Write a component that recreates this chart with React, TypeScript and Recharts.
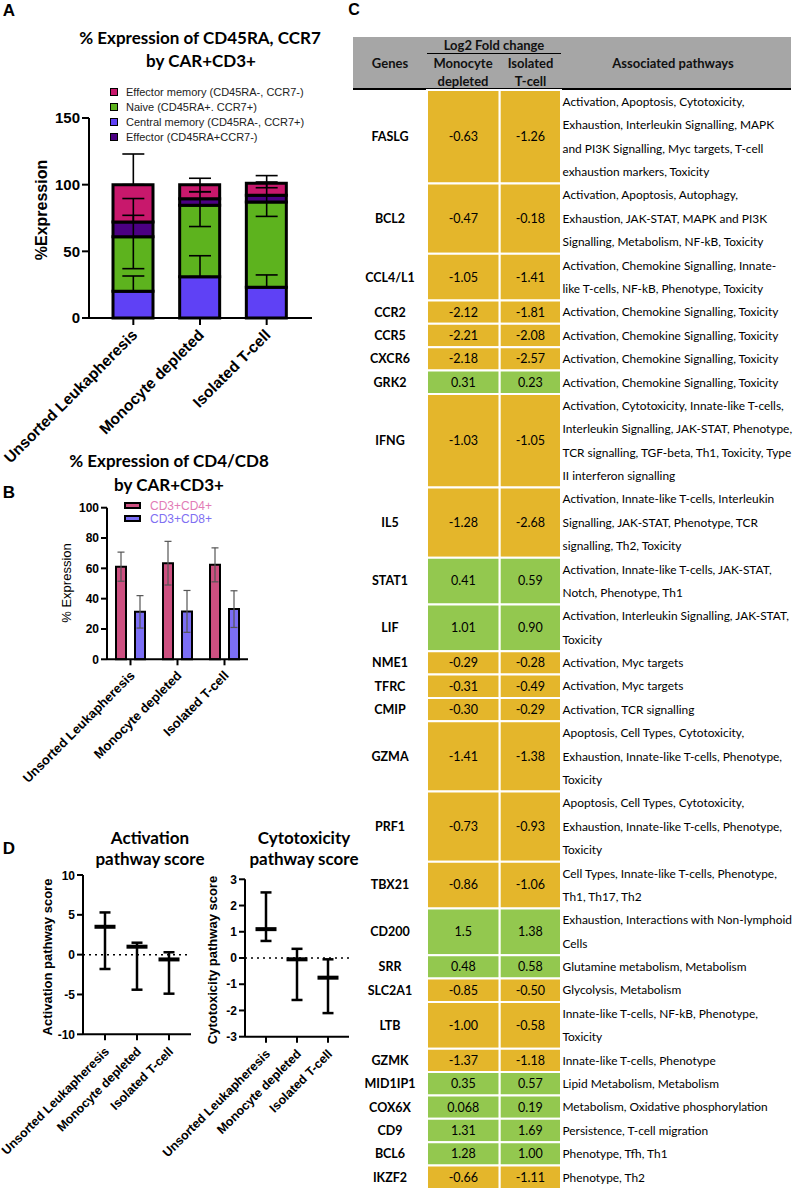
import React from 'react';
import { ComposedChart, BarChart, Bar, Scatter, ErrorBar, XAxis, YAxis, ReferenceLine, ReferenceArea } from 'recharts';

const GROUPS = ['Unsorted Leukapheresis', 'Monocyte depleted', 'Isolated T-cell'];

// A — CD45RA / CCR7 subsets, stacked %
const CENTRAL_MEMORY = [20, 31, 23];
const NAIVE = [41, 53.5, 64];
const EFFECTOR = [11, 5, 5];
const EFFECTOR_MEMORY = [28, 10.5, 9];
// error bar extents [low, high] as drawn on each stacked segment
const CM_RANGE = [[20, 31.5], [31, 46.7], [23, 32.3]];
const NAIVE_RANGE = [[37, 77], [68.6, 84.5], [76.2, 87]];
const EFF_RANGE = [[72, 89.6], [84.5, 94.7], [87, 102]];
const EM_RANGE = [[100, 123], [94.7, 104.8], [97.7, 106.8]];

// B — CD4 / CD8 (mean, SD)
const CD4 = [61.1, 63.4, 62.3];
const CD4_SD = [9.6, 14.4, 11.2];
const CD8 = [31.3, 31.6, 33.1];
const CD8_SD = [10.7, 13.8, 12.1];

// D — pathway scores (median with range)
const ACT_MEDIAN = [3.5, 1.0, -0.6];
const ACT_MIN = [-1.8, -4.4, -4.9];
const ACT_MAX = [5.3, 1.5, 0.3];
const CYT_MEDIAN = [1.1, -0.05, -0.75];
const CYT_MIN = [0.65, -1.6, -2.1];
const CYT_MAX = [2.5, 0.35, -0.05];

// C — log2 fold change table
const GENES = ['FASLG', 'BCL2', 'CCL4/L1', 'CCR2', 'CCR5', 'CXCR6', 'GRK2', 'IFNG', 'IL5', 'STAT1', 'LIF', 'NME1', 'TFRC', 'CMIP', 'GZMA', 'PRF1', 'TBX21', 'CD200', 'SRR', 'SLC2A1', 'LTB', 'GZMK', 'MID1IP1', 'COX6X', 'CD9', 'BCL6', 'IKZF2'];
const FC_MONOCYTE = ['-0.63', '-0.47', '-1.05', '-2.12', '-2.21', '-2.18', '0.31', '-1.03', '-1.28', '0.41', '1.01', '-0.29', '-0.31', '-0.30', '-1.41', '-0.73', '-0.86', '1.5', '0.48', '-0.85', '-1.00', '-1.37', '0.35', '0.068', '1.31', '1.28', '-0.66'];
const FC_ISOLATED = ['-1.26', '-0.18', '-1.41', '-1.81', '-2.08', '-2.57', '0.23', '-1.05', '-2.68', '0.59', '0.90', '-0.28', '-0.49', '-0.29', '-1.38', '-0.93', '-1.06', '1.38', '0.58', '-0.50', '-0.58', '-1.18', '0.57', '0.19', '1.69', '1.00', '-1.11'];
const CHEMO = ['Activation, Chemokine Signalling, Toxicity'];
const APOP = ['Apoptosis, Cell Types, Cytotoxicity,', 'Exhaustion, Innate-like T-cells, Phenotype,', 'Toxicity'];
const PATHWAYS = [
  ['Activation, Apoptosis, Cytotoxicity,', 'Exhaustion, Interleukin Signalling, MAPK', 'and PI3K Signalling, Myc targets, T-cell', 'exhaustion markers, Toxicity'],
  ['Activation, Apoptosis, Autophagy,', 'Exhaustion, JAK-STAT, MAPK and PI3K', 'Signalling, Metabolism, NF-kB, Toxicity'],
  ['Activation, Chemokine Signalling, Innate-', 'like T-cells, NF-kB, Phenotype, Toxicity'],
  CHEMO, CHEMO, CHEMO, CHEMO,
  ['Activation, Cytotoxicity, Innate-like T-cells,', 'Interleukin Signalling, JAK-STAT, Phenotype,', 'TCR signalling, TGF-beta, Th1, Toxicity, Type', 'II interferon signalling'],
  ['Activation, Innate-like T-cells, Interleukin', 'Signalling, JAK-STAT, Phenotype, TCR', 'signalling, Th2, Toxicity'],
  ['Activation, Innate-like T-cells, JAK-STAT,', 'Notch, Phenotype, Th1'],
  ['Activation, Interleukin Signalling, JAK-STAT,', 'Toxicity'],
  ['Activation, Myc targets'],
  ['Activation, Myc targets'],
  ['Activation, TCR signalling'],
  APOP, APOP,
  ['Cell Types, Innate-like T-cells, Phenotype,', 'Th1, Th17, Th2'],
  ['Exhaustion, Interactions with Non-lymphoid', 'Cells'],
  ['Glutamine metabolism, Metabolism'],
  ['Glycolysis, Metabolism'],
  ['Innate-like T-cells, NF-kB, Phenotype,', 'Toxicity'],
  ['Innate-like T-cells, Phenotype'],
  ['Lipid Metabolism, Metabolism'],
  ['Metabolism, Oxidative phosphorylation'],
  ['Persistence, T-cell migration'],
  ['Phenotype, Tfh, Th1'],
  ['Phenotype, Th2'],
];

const SANS = '"Liberation Sans", Arial, sans-serif';
const TITLE = 'Lato, "Open Sans", sans-serif';

const A_COLORS = { cm: '#5F41F5', naive: '#5DB31E', eff: '#4B0082', em: '#C8186C' };
const B_COLORS = { cd4: '#CD5080', cd8: '#7B6EF5', cd4Text: '#E27CB6', cd8Text: '#7F70F2' };
const CELL_NEG = '#E4B62B';
const CELL_POS = '#93C84F';
const COLS = [0, 74, 146.7, 208, 438];

const subsetRows = GROUPS.map((name, i) => ({
  name,
  cm: CENTRAL_MEMORY[i], naive: NAIVE[i], eff: EFFECTOR[i], em: EFFECTOR_MEMORY[i],
  cmLo: CM_RANGE[i][0], cmErr: [0, CM_RANGE[i][1] - CM_RANGE[i][0]],
  naiveLo: NAIVE_RANGE[i][0], naiveErr: [0, NAIVE_RANGE[i][1] - NAIVE_RANGE[i][0]],
  effLo: EFF_RANGE[i][0], effErr: [0, EFF_RANGE[i][1] - EFF_RANGE[i][0]],
  emLo: EM_RANGE[i][0], emErr: [0, EM_RANGE[i][1] - EM_RANGE[i][0]],
}));

const cdRows = GROUPS.map((name, i) => ({ name, cd4: CD4[i], cd4Sd: CD4_SD[i], cd8: CD8[i], cd8Sd: CD8_SD[i] }));

const scoreRows = (med: number[], lo: number[], hi: number[]) =>
  GROUPS.map((name, i) => ({ name, median: med[i], range: [med[i] - lo[i], hi[i] - med[i]] }));

let acc = 0;
const tableRows = GENES.map((gene, i) => {
  const start = acc;
  acc += PATHWAYS[i].length;
  return { gene, mono: FC_MONOCYTE[i], iso: FC_ISOLATED[i], lines: PATHWAYS[i], start, end: acc };
});
const TOTAL_LINES = acc;
// corners of the table grid, so both hidden axes have data to scale
const tableFrame = [{ x: COLS[0], y: 0 }, { x: COLS[4], y: TOTAL_LINES }];

const SlantTick = (props: any) => {
  const { x, y, payload, size, dx = 0, dy = 0 } = props;
  const tx = x + dx;
  const ty = y + dy;
  return (
    <text x={tx} y={ty} transform={`rotate(-45, ${tx}, ${ty})`} textAnchor="end" fontSize={size} fontWeight={700} fill="#000" fontFamily={SANS}>
      {payload.value}
    </text>
  );
};

const NoShape = () => <g />;
const MedianBar = (props: any) => {
  const { cx, cy } = props;
  if (cx == null || cy == null) return null;
  return <rect x={cx - 10.5} y={cy - 2} width={21} height={4} fill="#000" />;
};

// plain positioned text for titles, labels, legends
const Txt = ({ x, y, size, weight = 400, family = SANS, color = '#000', align = 'center', rotate = 0, children }: any) => (
  <div style={{
    position: 'absolute', left: x, top: y, whiteSpace: 'nowrap', lineHeight: 1, fontSize: size, fontWeight: weight,
    fontFamily: family, color,
    transform: `translate(${align === 'center' ? '-50%' : '0'}, -50%) rotate(${rotate}deg)`,
  }}>{children}</div>
);

const axisStyle = { stroke: '#000', strokeWidth: 2 };

const App = () => {
  return (
    <div style={{ position: 'absolute', left: 0, top: 0, width: 798, height: 1190, background: '#fff', fontFamily: SANS, overflow: 'hidden' }}>
      <style>{'svg.recharts-surface { overflow: visible; }'}</style>
      {/* Panel letters */}
      <Txt x={9} y={10} size={17} weight={700}>A</Txt>
      <Txt x={9} y={492} size={17} weight={700}>B</Txt>
      <Txt x={354} y={10} size={16} weight={700}>C</Txt>
      <Txt x={9} y={848} size={17} weight={700}>D</Txt>

      {/* A */}
      <Txt x={200} y={37} size={17} weight={700} family={TITLE}>% Expression of CD45RA, CCR7</Txt>
      <Txt x={201} y={60} size={17} weight={700} family={TITLE}>by CAR+CD3+</Txt>
      {[
        ['Effector memory (CD45RA-, CCR7-)', A_COLORS.em],
        ['Naive (CD45RA+. CCR7+)', A_COLORS.naive],
        ['Central memory (CD45RA-, CCR7+)', A_COLORS.cm],
        ['Effector (CD45RA+CCR7-)', A_COLORS.eff],
      ].map(([label, color], i) => (
        <React.Fragment key={label}>
          <div style={{ position: 'absolute', left: 110, top: 88 + i * 15.1, width: 8, height: 8, boxSizing: 'border-box', border: '1.5px solid #000', background: color }} />
          <Txt x={126} y={92 + i * 15.1} size={11} align="left" color="#222">{label}</Txt>
        </React.Fragment>
      ))}
      <Txt x={42} y={210} size={16} weight={700} rotate={-90}>%Expression</Txt>
      <div style={{ position: 'absolute', left: 0, top: 0 }}>
        <ComposedChart width={320} height={440} data={subsetRows} margin={{ top: 118, right: 8, bottom: 0, left: 0 }} barSize={40}>
          <XAxis dataKey="name" type="category" interval={0} padding={{ left: 11, right: 12 }} height={122}
            axisLine={axisStyle} tickLine={axisStyle} tickSize={7} tick={<SlantTick size={15.5} dx={5} dy={9} />} />
          <YAxis type="number" domain={[0, 150]} ticks={[0, 50, 100, 150]} width={89} axisLine={axisStyle} tickLine={axisStyle}
            tickSize={7} tick={{ fontSize: 15, fontWeight: 700, fill: '#000' }} />
          <Bar dataKey="cm" stackId="s" fill={A_COLORS.cm} stroke="#000" strokeWidth={3} isAnimationActive={false} />
          <Bar dataKey="naive" stackId="s" fill={A_COLORS.naive} stroke="#000" strokeWidth={3} isAnimationActive={false} />
          <Bar dataKey="eff" stackId="s" fill={A_COLORS.eff} stroke="#000" strokeWidth={3} isAnimationActive={false} />
          <Bar dataKey="em" stackId="s" fill={A_COLORS.em} stroke="#000" strokeWidth={3} isAnimationActive={false} />
          {['cm', 'naive', 'eff', 'em'].map((k) => (
            <Scatter key={k} dataKey={`${k}Lo`} shape={NoShape} isAnimationActive={false}>
              <ErrorBar dataKey={`${k}Err`} direction="y" width={11} stroke="#000" strokeWidth={1.6} />
            </Scatter>
          ))}
        </ComposedChart>
      </div>

      {/* B */}
      <Txt x={169} y={460} size={17} weight={700} family={TITLE}>% Expression of CD4/CD8</Txt>
      <Txt x={169} y={484} size={17} weight={700} family={TITLE}>by CAR+CD3+</Txt>
      {[
        ['CD3+CD4+', B_COLORS.cd4, B_COLORS.cd4Text],
        ['CD3+CD8+', B_COLORS.cd8, B_COLORS.cd8Text],
      ].map(([label, fill, text], i) => (
        <React.Fragment key={label}>
          <div style={{ position: 'absolute', left: 124, top: 501.5 + i * 13.3, width: 17, height: 7.5, boxSizing: 'border-box', border: '2px solid #000', background: fill }} />
          <Txt x={150} y={505.5 + i * 13.3} size={12} align="left" color={text}>{label}</Txt>
        </React.Fragment>
      ))}
      <Txt x={66} y={583} size={13} rotate={-90}>% Expression</Txt>
      <div style={{ position: 'absolute', left: 0, top: 500 }}>
        <BarChart width={252} height={290} data={cdRows} margin={{ top: 7.7, right: 4, bottom: 0, left: 0 }} barSize={10} barGap={9}>
          <XAxis dataKey="name" interval={0} height={130.7} axisLine={axisStyle} tickLine={axisStyle} tickSize={6}
            tick={<SlantTick size={13} dx={5} dy={9} />} />
          <YAxis type="number" domain={[0, 100]} ticks={[0, 20, 40, 60, 80, 100]} width={107} axisLine={axisStyle} tickLine={axisStyle}
            tickSize={6} tick={{ fontSize: 12, fontWeight: 700, fill: '#000' }} />
          <Bar dataKey="cd4" fill={B_COLORS.cd4} stroke="#000" strokeWidth={2} isAnimationActive={false}>
            <ErrorBar dataKey="cd4Sd" width={3.5} stroke="#555" strokeWidth={1.2} />
          </Bar>
          <Bar dataKey="cd8" fill={B_COLORS.cd8} stroke="#000" strokeWidth={2} isAnimationActive={false}>
            <ErrorBar dataKey="cd8Sd" width={3.5} stroke="#555" strokeWidth={1.2} />
          </Bar>
        </BarChart>
      </div>

      {/* D */}
      <Txt x={150} y={837} size={17} weight={700} family={TITLE}>Activation</Txt>
      <Txt x={150} y={858} size={17} weight={700} family={TITLE}>pathway score</Txt>
      <Txt x={304} y={837} size={17} weight={700} family={TITLE}>Cytotoxicity</Txt>
      <Txt x={304} y={858} size={17} weight={700} family={TITLE}>pathway score</Txt>
      <Txt x={47} y={957} size={13} weight={700} rotate={-90}>Activation pathway score</Txt>
      <Txt x={212} y={960} size={13} weight={700} rotate={-90}>Cytotoxicity pathway score</Txt>
      <div style={{ position: 'absolute', left: 0, top: 868 }}>
        <ComposedChart width={195} height={267} data={scoreRows(ACT_MEDIAN, ACT_MIN, ACT_MAX)} margin={{ top: 7, right: 4, bottom: 0, left: 0 }}>
          <XAxis dataKey="name" type="category" interval={0} padding={{ left: 22, right: 22 }} height={100.7} axisLine={axisStyle}
            tickLine={axisStyle} tickSize={6} tick={<SlantTick size={12.5} dx={5} dy={10} />} />
          <YAxis type="number" domain={[-10, 10]} ticks={[-10, -5, 0, 5, 10]} width={83} axisLine={axisStyle} tickLine={axisStyle}
            tickSize={6} tick={{ fontSize: 12, fontWeight: 700, fill: '#000' }} />
          <ReferenceLine y={0} stroke="#000" strokeWidth={1.5} strokeDasharray="2 4" />
          <Scatter dataKey="median" shape={MedianBar} isAnimationActive={false}>
            <ErrorBar dataKey="range" direction="y" width={5.5} stroke="#000" strokeWidth={2.5} />
          </Scatter>
        </ComposedChart>
      </div>
      <div style={{ position: 'absolute', left: 160, top: 872 }}>
        <ComposedChart width={193} height={265} data={scoreRows(CYT_MEDIAN, CYT_MIN, CYT_MAX)} margin={{ top: 7.3, right: 4, bottom: 0, left: 0 }}>
          <XAxis dataKey="name" type="category" interval={0} padding={{ left: 21, right: 21 }} height={100.3} axisLine={axisStyle}
            tickLine={axisStyle} tickSize={6} tick={<SlantTick size={12.5} dx={5} dy={10} />} />
          <YAxis type="number" domain={[-3, 3]} ticks={[-3, -2, -1, 0, 1, 2, 3]} width={85} axisLine={axisStyle} tickLine={axisStyle}
            tickSize={6} tick={{ fontSize: 12, fontWeight: 700, fill: '#000' }} />
          <ReferenceLine y={0} stroke="#000" strokeWidth={1.5} strokeDasharray="2 4" />
          <Scatter dataKey="median" shape={MedianBar} isAnimationActive={false}>
            <ErrorBar dataKey="range" direction="y" width={5.5} stroke="#000" strokeWidth={2.5} />
          </Scatter>
        </ComposedChart>
      </div>

      {/* C — header */}
      <div style={{ position: 'absolute', left: 353, top: 37, width: 438, height: 51, background: '#A6A6A6', borderBottom: '2px solid #000' }} />
      <div style={{ position: 'absolute', left: 427, top: 52.5, width: 134, height: 1.6, background: '#000' }} />
      <Txt x={494} y={45} size={13} weight={700} family={TITLE} color="#111">Log2 Fold change</Txt>
      <Txt x={390} y={63} size={13} weight={700} family={TITLE} color="#111">Genes</Txt>
      <Txt x={463} y={63} size={13} weight={700} family={TITLE} color="#111">Monocyte</Txt>
      <Txt x={463} y={81} size={13} weight={700} family={TITLE} color="#111">depleted</Txt>
      <Txt x={530.5} y={63} size={13} weight={700} family={TITLE} color="#111">Isolated</Txt>
      <Txt x={530.5} y={81} size={13} weight={700} family={TITLE} color="#111">T-cell</Txt>
      <Txt x={673} y={63} size={13} weight={700} family={TITLE} color="#111">Associated pathways</Txt>

      {/* C — body */}
      <div style={{ position: 'absolute', left: 353, top: 90 }}>
        <ComposedChart width={438} height={1099} margin={{ top: 0, right: 0, bottom: 0, left: 0 }}>
          <XAxis type="number" dataKey="x" domain={[0, COLS[4]]} allowDataOverflow hide />
          <YAxis type="number" dataKey="y" domain={[0, TOTAL_LINES]} allowDataOverflow reversed hide />
          <Scatter data={tableFrame} dataKey="y" shape={NoShape} isAnimationActive={false} />
          {tableRows.map((r) => (
            <React.Fragment key={r.gene}>
              <ReferenceArea x1={COLS[0]} x2={COLS[1]} y1={r.start} y2={r.end} fill="none" stroke="none" ifOverflow="visible"
                label={{ value: r.gene, position: 'center', fontSize: 12.5, fontWeight: 700, fill: '#000', fontFamily: TITLE }} />
              <ReferenceArea x1={COLS[1]} x2={COLS[2]} y1={r.start} y2={r.end} fill={Number(r.mono) < 0 ? CELL_NEG : CELL_POS}
                fillOpacity={1} stroke="#fff" strokeWidth={2} ifOverflow="visible"
                label={{ value: r.mono, position: 'center', fontSize: 12.5, fill: '#000', fontFamily: TITLE }} />
              <ReferenceArea x1={COLS[2]} x2={COLS[3]} y1={r.start} y2={r.end} fill={Number(r.iso) < 0 ? CELL_NEG : CELL_POS}
                fillOpacity={1} stroke="#fff" strokeWidth={2} ifOverflow="visible"
                label={{ value: r.iso, position: 'center', fontSize: 12.5, fill: '#000', fontFamily: TITLE }} />
              {r.lines.map((line, j) => (
                <ReferenceArea key={j} x1={COLS[3]} x2={COLS[4]} y1={r.start + j} y2={r.start + j + 1} fill="none" stroke="none" ifOverflow="visible"
                  label={{ value: line, position: 'insideLeft', offset: 1.5, fontSize: 11.9, fill: '#000', fontFamily: TITLE }} />
              ))}
            </React.Fragment>
          ))}
        </ComposedChart>
      </div>
    </div>
  );
};

export default App;
